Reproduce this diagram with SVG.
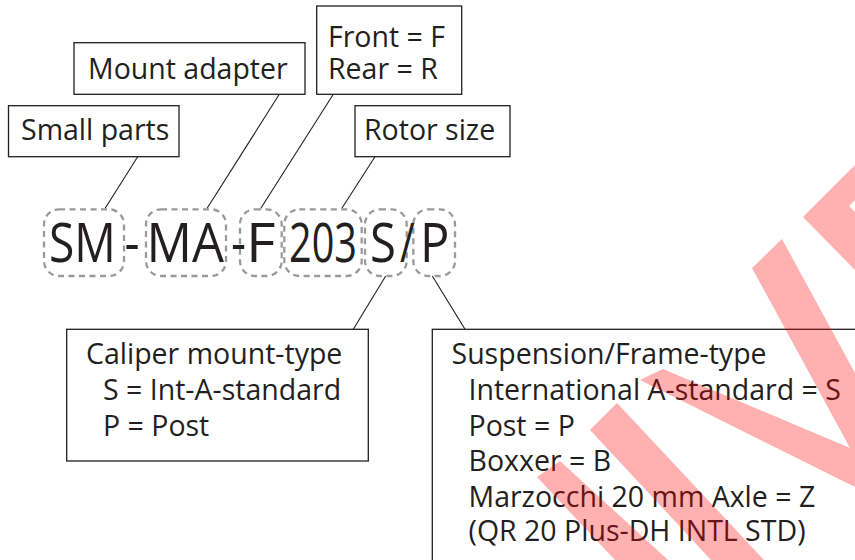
<svg xmlns="http://www.w3.org/2000/svg" width="855" height="560" viewBox="0 0 855 560">
<style>
.box{fill:#fff;stroke:#231f20;stroke-width:1.3}
.lbl{font-family:"Open Sans","Noto Sans",sans-serif;font-size:28.5px;fill:#231f20}
.big{font-family:"Open Sans","Noto Sans",sans-serif;font-size:55px;fill:#231f20}
.dash{fill:none;stroke:#9a9a9a;stroke-width:2.3;stroke-dasharray:6 4.5}
.conn{stroke:#231f20;stroke-width:1.1;fill:none}
.wm{fill:#ff0000;fill-opacity:0.31}
</style>
<rect width="855" height="560" fill="#fff"/>
<g id="connectors">
<line class="conn" x1="137.7" y1="156.7" x2="105" y2="208.5"/>
<line class="conn" x1="279.3" y1="94.3" x2="207" y2="208.5"/>
<line class="conn" x1="333.3" y1="94.3" x2="260.7" y2="208.5"/>
<line class="conn" x1="375" y1="156.7" x2="341.7" y2="208.5"/>
<line class="conn" x1="385.7" y1="276" x2="353.3" y2="329.3"/>
<line class="conn" x1="432.3" y1="276" x2="465" y2="329.3"/>
</g>
<g id="small-parts">
<rect class="box" x="8.5" y="105.7" width="170.5" height="51"/>
<text class="lbl" x="21" y="140">Small parts</text>
</g>
<g id="mount-adapter">
<rect class="box" x="74" y="42.7" width="231" height="51.6"/>
<text class="lbl" x="88" y="79">Mount adapter</text>
</g>
<g id="front-rear">
<rect class="box" x="316.7" y="6" width="145" height="88.3"/>
<text class="lbl" x="328" y="46.5">Front = F</text>
<text class="lbl" x="328" y="79">Rear = R</text>
</g>
<g id="rotor-size">
<rect class="box" x="355" y="105.7" width="155" height="51"/>
<text class="lbl" x="364" y="140">Rotor size</text>
</g>
<g id="code">
<rect class="dash" x="44" y="209.3" width="80" height="66.7" rx="15"/>
<rect class="dash" x="146" y="209.3" width="80" height="66.7" rx="15"/>
<rect class="dash" x="240" y="209.3" width="41.7" height="66.7" rx="15"/>
<rect class="dash" x="284.3" y="209.3" width="77.4" height="66.7" rx="15"/>
<rect class="dash" x="365" y="209.3" width="41.7" height="66.7" rx="15"/>
<rect class="dash" x="413.3" y="209.3" width="41.7" height="66.7" rx="15"/>
<text class="big" transform="translate(49 262) scale(0.84 1)">SM</text>
<text class="big" transform="translate(124.5 262) scale(0.85 1)">-</text>
<text class="big" transform="translate(146.5 262) scale(0.92 1)">MA</text>
<text class="big" transform="translate(231 262) scale(0.85 1)">-</text>
<text class="big" transform="translate(246 262) scale(1.04 1)">F</text>
<text class="big" transform="translate(289 262) scale(0.72 1)">203</text>
<text class="big" transform="translate(370 262) scale(0.86 1)">S</text>
<text class="big" transform="translate(400 262) scale(0.73 1)">/</text>
<text class="big" transform="translate(420 262) scale(0.89 1)">P</text>
</g>
<g id="caliper-mount">
<rect class="box" x="66.7" y="329.3" width="301.6" height="131.7"/>
<text class="lbl" x="86" y="364">Caliper mount-type</text>
<text class="lbl" x="103" y="400">S = Int-A-standard</text>
<text class="lbl" x="103" y="436">P = Post</text>
</g>
<g id="suspension-frame">
<rect class="box" x="432.3" y="329.3" width="440" height="260"/>
<text class="lbl" x="451.5" y="363.5">Suspension/Frame-type</text>
<text class="lbl" x="468.5" y="399.5">International A-standard = S</text>
<text class="lbl" x="468.5" y="435.5">Post = P</text>
<text class="lbl" x="468.5" y="471">Boxxer = B</text>
<text class="lbl" x="468.5" y="506.5">Marzocchi 20 mm Axle = Z</text>
<text class="lbl" x="468.5" y="541">(QR 20 Plus-DH INTL STD)</text>
</g>
<g id="watermark">
<polygon class="wm" points="590,430 617,403 764,560 711,560"/>
<polygon class="wm" points="537,477 560,461 668,560 615,560"/>
<polygon class="wm" points="752,268 782,239 855,373 855,487 640,380 663,369 850,448"/>
<polygon class="wm" points="803,217 855,165 855,200 849,206 855,212 855,270"/>
</g>
</svg>
